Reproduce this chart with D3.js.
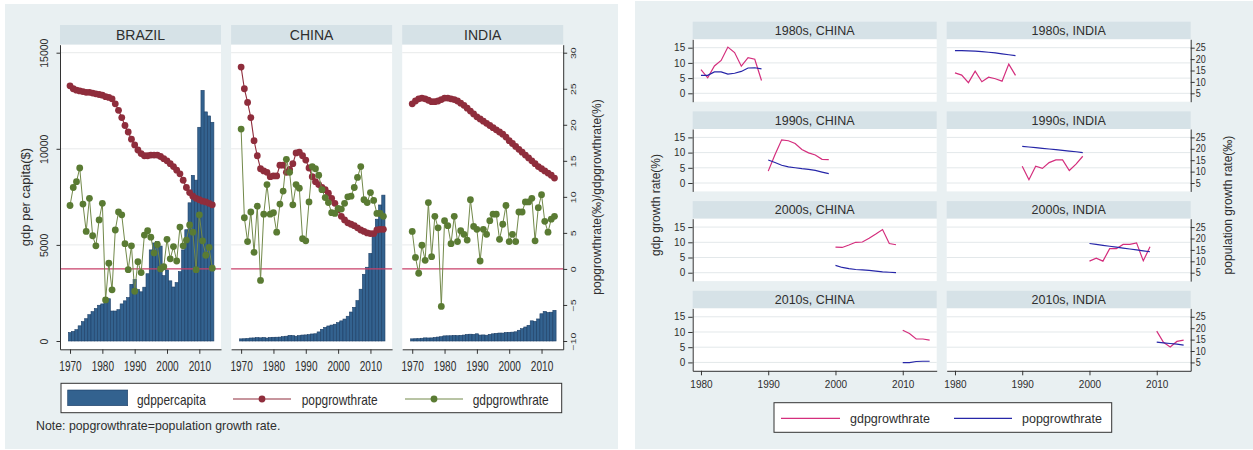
<!DOCTYPE html>
<html><head><meta charset="utf-8">
<script src="https://cdnjs.cloudflare.com/ajax/libs/d3/7.8.5/d3.min.js"></script>
<style>
html,body{margin:0;padding:0;background:#fff;}
svg{display:block;font-family:"Liberation Sans",Arial,sans-serif;}
</style></head><body>
<svg id="chart" width="1253" height="450"></svg>
<script>
// ---- data -------------------------------------------------------------
const years = [1970,1971,1972,1973,1974,1975,1976,1977,1978,1979,
               1980,1981,1982,1983,1984,1985,1986,1987,1988,1989,
               1990,1991,1992,1993,1994,1995,1996,1997,1998,1999,
               2000,2001,2002,2003,2004,2005,2006,2007,2008,2009,
               2010,2011,2012,2013,2014];
const countries = ["BRAZIL", "CHINA", "INDIA"];

// GDP per capita ($)
const brazilGdpPerCapita = [440,500,590,790,1010,1160,1370,1530,1690,1860,
  1930,2100,2200,1560,1560,1630,1930,2090,2260,2950,
  3200,2680,2560,2800,3500,4740,5100,5180,4940,3400,
  3700,3130,2810,3040,3610,4740,5790,7190,8620,8370,
  11120,13040,11920,11710,11380];
const chinaGdpPerCapita = [112,118,131,157,160,178,165,185,155,183,
  194,197,203,225,250,294,281,251,283,310,
  317,333,366,377,473,610,709,782,829,873,
  955,1047,1142,1288,1508,1753,2099,2695,3471,3838,
  4560,5634,6337,7078,7590];
const indiaGdpPerCapita = [112,118,122,143,163,158,161,186,206,224,
  267,271,274,291,277,296,310,340,354,346,
  375,309,317,301,346,374,400,415,413,442,
  452,461,479,559,640,729,817,1050,1023,1147,
  1417,1540,1486,1498,1596];

// population growth rate (per mille)
const brazilPopGrowth = [25.4,25.0,24.8,24.7,24.6,24.5,24.5,24.4,24.3,24.2,
  24.1,23.9,23.8,23.6,22.9,22.0,21.0,19.9,19.0,18.0,
  17.2,16.5,16.0,15.7,15.7,15.8,15.8,15.8,15.6,15.3,
  15.0,14.6,14.2,13.7,13.2,12.3,11.3,10.6,10.1,9.8,
  9.6,9.4,9.3,9.1,8.9];
const chinaPopGrowth = [28.0,25.0,23.1,21.0,17.8,15.7,13.9,13.6,13.4,12.8,
  12.9,12.9,14.4,14.4,13.4,13.8,14.6,16.1,16.2,15.7,
  15.1,14.0,12.8,12.1,11.7,11.3,11.0,10.5,9.8,9.1,
  8.2,7.3,6.8,6.4,6.2,6.0,5.7,5.4,5.2,5.0,
  4.9,4.9,5.4,5.5,5.5];
const indiaPopGrowth = [22.9,23.3,23.6,23.7,23.6,23.4,23.2,23.2,23.3,23.5,
  23.7,23.7,23.6,23.5,23.3,23.0,22.7,22.3,21.9,21.5,
  21.1,20.8,20.5,20.2,19.9,19.6,19.3,19.0,18.7,18.3,
  17.8,17.4,17.0,16.6,16.2,15.8,15.4,15.0,14.6,14.2,
  13.9,13.6,13.3,13.0,12.6];

// GDP growth rate (%)
const brazilGdpGrowth = [8.8,11.3,12.1,14.0,9.0,5.2,9.8,4.6,3.2,6.8,
  9.1,-4.3,0.8,-2.9,5.4,7.9,7.5,3.5,-0.1,3.2,
  -3.1,1.0,-0.5,4.7,5.3,4.4,2.2,3.4,0.0,0.3,
  4.1,1.4,3.1,1.1,5.8,3.2,4.0,6.1,5.1,-0.1,
  7.5,3.9,1.9,3.0,0.1];
const chinaGdpGrowth = [19.4,7.1,3.8,7.9,2.3,8.7,-1.6,7.6,11.7,7.6,
  7.8,5.1,9.0,10.8,15.2,13.4,8.9,11.7,11.2,4.2,
  3.9,9.3,14.2,13.9,13.0,11.0,9.9,9.2,7.8,7.7,
  8.4,8.3,9.1,10.0,10.1,11.3,12.7,14.2,9.6,9.2,
  10.6,9.5,7.7,7.7,7.3];
const indiaGdpGrowth = [5.2,1.6,-0.6,3.3,1.2,9.2,1.7,7.3,5.7,-5.2,
  6.7,6.0,3.5,7.3,3.8,5.3,4.8,4.0,9.6,5.9,
  5.5,1.1,5.5,4.8,6.7,7.6,7.6,4.1,6.2,8.8,
  3.8,4.8,3.8,7.9,7.9,9.3,9.3,9.8,3.9,8.5,
  10.3,6.6,5.1,6.9,7.3];

// ticks and facet labels
const gdpPerCapitaTicks = [0, 5000, 10000, 15000];
const rateTicks = [-10, -5, 0, 5, 10, 15, 20, 25, 30];
const yearTicks = [1970, 1980, 1990, 2000, 2010];
const facetCountries = ["CHINA", "INDIA"];
const decades = ["1980s", "1990s", "2000s", "2010s"];
const decadeStarts = [1980, 1990, 2000, 2010];
const growthTicks = [0, 5, 10, 15];
const popTicks = [5, 10, 15, 20, 25];
const decadeYearTicks = [1980, 1990, 2000, 2010];

const seriesByCountry = {
  BRAZIL: {gdppc: brazilGdpPerCapita, pop: brazilPopGrowth, gdp: brazilGdpGrowth},
  CHINA:  {gdppc: chinaGdpPerCapita,  pop: chinaPopGrowth,  gdp: chinaGdpGrowth},
  INDIA:  {gdppc: indiaGdpPerCapita,  pop: indiaPopGrowth,  gdp: indiaGdpGrowth}
};

// ---- style ------------------------------------------------------------
const BG = "#e9f0f2", STRIP = "#d6e2e7", TEXT = "#2e2e2e", AXIS = "#333";
const BAR_FILL = "#33628f", BAR_EDGE = "#1d3f66";
const POP_RED = "#8f2d3c", GDP_GREEN = "#5a7b33", GDP_GREEN_LINE = "#72894a";
const ZERO_LINE = "#c8416a";
const PINK = "#d42e7d", BLUE = "#2626a8";
const FONT = "Liberation Sans, Arial, sans-serif";
const MARKER_R = 3.4;

const svg = d3.select("#chart");

function label(g, x, y, s, o = {}) {
  return g.append("text")
    .attr("transform", `translate(${x},${y}) rotate(${o.rot || 0}) scale(${o.sx || 1},${o.sy || 1})`)
    .attr("text-anchor", o.anchor || "middle")
    .attr("font-size", o.size || 12)
    .attr("font-family", FONT)
    .attr("fill", o.fill || TEXT)
    .text(s);
}
function styleAxis(ax) {
  ax.attr("font-family", FONT);
  ax.select(".domain").attr("stroke", AXIS).attr("stroke-width", 1);
  ax.selectAll(".tick line").attr("stroke", AXIS).attr("stroke-width", 1);
  ax.selectAll(".tick text").attr("fill", TEXT);
}

// ---- left figure: three country panels ------------------------------
const left = svg.append("g");
left.append("rect").attr("x", 5).attr("y", 4).attr("width", 613).attr("height", 445).attr("fill", BG);

const pTop = 44.7, pBot = 349.3, sTop = 25;
const yGdppc = d3.scaleLinear().domain([0, 15000]).range([341, 52.7]);
const yRate = d3.scaleLinear().domain([-10, 30]).range([341, 52.7]);
const yGdppcAxis = yGdppc.copy().domain([yGdppc.invert(pBot), yGdppc.invert(pTop)]).range([pBot, pTop]);
const yRateAxis = yRate.copy().domain([yRate.invert(pBot), yRate.invert(pTop)]).range([pBot, pTop]);

countries.forEach((c, i) => {
  const x0 = 60 + i * 171.1, w = 161;
  const x = d3.scaleLinear().domain([1966.9, 2016.7]).range([x0, x0 + w]);
  const s = seriesByCountry[c];
  const g = left.append("g");

  g.append("rect").attr("x", x0).attr("y", sTop).attr("width", w).attr("height", pTop - sTop).attr("fill", STRIP);
  label(g, x0 + w / 2, 39.9, c, {size: 14});
  g.append("rect").attr("x", x0).attr("y", pTop).attr("width", w).attr("height", pBot - pTop).attr("fill", "#fff");

  g.selectAll(".grid").data(gdpPerCapitaTicks.filter(v => v > 0)).join("line")
    .attr("x1", x0).attr("x2", x0 + w)
    .attr("y1", d => yGdppc(d)).attr("y2", d => yGdppc(d))
    .attr("stroke", "#e8eaeb").attr("stroke-width", 1);

  const rows = years.map((yr, k) => ({yr, gdppc: s.gdppc[k], pop: s.pop[k], gdp: s.gdp[k]}));

  g.selectAll(".bar").data(rows).join("rect")
    .attr("x", d => x(d.yr - 0.5)).attr("width", d => x(d.yr + 0.5) - x(d.yr - 0.5))
    .attr("y", d => yGdppc(d.gdppc)).attr("height", d => yGdppc(0) - yGdppc(d.gdppc))
    .attr("fill", BAR_FILL).attr("stroke", BAR_EDGE).attr("stroke-width", 0.6);

  g.append("line").attr("x1", x0).attr("x2", x0 + w)
    .attr("y1", yRate(0)).attr("y2", yRate(0))
    .attr("stroke", ZERO_LINE).attr("stroke-width", 1.3);

  const popLine = d3.line().x(d => x(d.yr)).y(d => yRate(d.pop));
  g.append("path").attr("d", popLine(rows)).attr("fill", "none").attr("stroke", POP_RED).attr("stroke-width", 1.1);
  g.selectAll(".popm").data(rows).join("circle")
    .attr("cx", d => x(d.yr)).attr("cy", d => yRate(d.pop)).attr("r", MARKER_R).attr("fill", POP_RED);

  const gdpLine = d3.line().x(d => x(d.yr)).y(d => yRate(d.gdp));
  g.append("path").attr("d", gdpLine(rows)).attr("fill", "none").attr("stroke", GDP_GREEN_LINE).attr("stroke-width", 1);
  g.selectAll(".gdpm").data(rows).join("circle")
    .attr("cx", d => x(d.yr)).attr("cy", d => yRate(d.gdp)).attr("r", MARKER_R).attr("fill", GDP_GREEN);

  const xa = g.append("g").attr("transform", `translate(0,${pBot})`)
    .call(d3.axisBottom(x).tickValues(yearTicks).tickFormat(d3.format("d"))
      .tickSize(4.5).tickPadding(6.8).tickSizeOuter(0));
  styleAxis(xa);
  xa.selectAll(".tick text").attr("font-size", 14).attr("transform", "scale(0.72,1)");

  if (i === 0) {
    const ya = g.append("g").attr("transform", `translate(${x0},0)`)
      .call(d3.axisLeft(yGdppcAxis).tickValues(gdpPerCapitaTicks).tickFormat(d3.format("d"))
        .tickSize(3.5).tickSizeOuter(0));
    styleAxis(ya);
    ya.selectAll(".tick text").attr("x", null).attr("dy", null)
      .attr("text-anchor", "middle").attr("font-size", 10.5)
      .attr("transform", "translate(-12,0) rotate(-90)");
  }
  if (i === countries.length - 1) {
    const ya = g.append("g").attr("transform", `translate(${x0 + w},0)`)
      .call(d3.axisRight(yRateAxis).tickValues(rateTicks).tickFormat(d3.format("d"))
        .tickSize(4).tickSizeOuter(0));
    styleAxis(ya);
    ya.selectAll(".tick text").attr("x", null).attr("dy", null)
      .attr("text-anchor", "middle").attr("font-size", 10.5)
      .attr("transform", "translate(12.6,0) rotate(-90) scale(1,0.75)");
  }
});

label(left, 30, 197, "gdp per capita($)", {size: 13, rot: -90});
label(left, 600.5, 197, "popgrowthrate(\u2030)/gdpgrowthrate(%)", {size: 12, rot: -90});

// legend
const lg = left.append("g");
lg.append("rect").attr("x", 61).attr("y", 383.3).attr("width", 500.7).attr("height", 29.4)
  .attr("fill", "#fff").attr("stroke", "#333").attr("stroke-width", 1);
lg.append("rect").attr("x", 67.7).attr("y", 390).attr("width", 60).attr("height", 15.7)
  .attr("fill", BAR_FILL).attr("stroke", BAR_EDGE).attr("stroke-width", 0.6);
label(lg, 137, 404.5, "gdppercapita", {size: 14, anchor: "start", sx: 0.85});
lg.append("line").attr("x1", 233).attr("x2", 291).attr("y1", 399).attr("y2", 399).attr("stroke", POP_RED).attr("stroke-width", 1.1);
lg.append("circle").attr("cx", 262).attr("cy", 399).attr("r", MARKER_R).attr("fill", POP_RED);
label(lg, 301.7, 404.5, "popgrowthrate", {size: 14, anchor: "start", sx: 0.85});
lg.append("line").attr("x1", 405).attr("x2", 463).attr("y1", 399).attr("y2", 399).attr("stroke", GDP_GREEN_LINE).attr("stroke-width", 1);
lg.append("circle").attr("cx", 434).attr("cy", 399).attr("r", MARKER_R).attr("fill", GDP_GREEN);
label(lg, 472.7, 404.5, "gdpgrowthrate", {size: 14, anchor: "start", sx: 0.85});

label(left, 36, 430, "Note: popgrowthrate=population growth rate.", {size: 13, anchor: "start", sx: 0.95});

// ---- right figure: decade x country facets -------------------------
const right = svg.append("g");
right.append("rect").attr("x", 635).attr("y", 1).attr("width", 618).attr("height", 448).attr("fill", BG);

facetCountries.forEach((c, ci) => {
  const x0 = 692.7 + ci * 254, w = 244;
  const x = d3.scaleLinear().domain([1978.77, 2015.05]).range([x0, x0 + w]);
  const s = seriesByCountry[c];

  decadeStarts.forEach((d0, ri) => {
    const stTop = 21.7 + ri * 89.7, top = stTop + 17.6, bot = top + 62.4;
    const yG = d3.scaleLinear().domain([-2.76, 17.76]).range([bot, top]);
    const yP = d3.scaleLinear().domain([1.32, 28.68]).range([bot, top]);
    const g = right.append("g");

    g.append("rect").attr("x", x0).attr("y", stTop).attr("width", w).attr("height", top - stTop).attr("fill", STRIP);
    label(g, x0 + w / 2, stTop + 13.2, `${decades[ri]}, ${c}`, {size: 12.5});
    g.append("rect").attr("x", x0).attr("y", top).attr("width", w).attr("height", bot - top).attr("fill", "#fff");

    g.selectAll(".grid").data(growthTicks).join("line")
      .attr("x1", x0).attr("x2", x0 + w)
      .attr("y1", v => yG(v)).attr("y2", v => yG(v))
      .attr("stroke", "#e3e8ea").attr("stroke-width", 1);

    const rows = years.map((yr, k) => ({yr, pop: s.pop[k], gdp: s.gdp[k]}))
      .filter(r => r.yr >= d0 && r.yr < d0 + 10);

    g.append("path").attr("d", d3.line().x(r => x(r.yr)).y(r => yG(r.gdp))(rows))
      .attr("fill", "none").attr("stroke", PINK).attr("stroke-width", 1.2);
    g.append("path").attr("d", d3.line().x(r => x(r.yr)).y(r => yP(r.pop))(rows))
      .attr("fill", "none").attr("stroke", BLUE).attr("stroke-width", 1.2);

    if (ci === 0) {
      const ya = g.append("g").attr("transform", `translate(${x0},0)`)
        .call(d3.axisLeft(yG).tickValues(growthTicks).tickSize(4.5).tickPadding(3).tickSizeOuter(0));
      styleAxis(ya);
      ya.selectAll(".tick text").attr("font-size", 10);
    } else {
      const ya = g.append("g").attr("transform", `translate(${x0 + w},0)`)
        .call(d3.axisRight(yP).tickValues(popTicks).tickSize(4).tickPadding(1.5).tickSizeOuter(0));
      styleAxis(ya);
      ya.selectAll(".tick text").attr("font-size", 10).attr("transform", "scale(0.9,1)");
    }
    if (ri === decadeStarts.length - 1) {
      const xa = g.append("g").attr("transform", `translate(0,${bot})`)
        .call(d3.axisBottom(x).tickValues(decadeYearTicks).tickFormat(d3.format("d"))
          .tickSize(4.5).tickPadding(5.7).tickSizeOuter(0));
      styleAxis(xa);
      xa.selectAll(".tick text").attr("font-size", 10);
    }
  });
});

label(right, 659.5, 205, "gdp growth rate(%)", {size: 12, rot: -90});
label(right, 1232, 205, "population growth rate(\u2030)", {size: 12, rot: -90});

const rl = right.append("g");
rl.append("rect").attr("x", 774).attr("y", 402.7).attr("width", 337.7).attr("height", 29.6)
  .attr("fill", "#fff").attr("stroke", "#333").attr("stroke-width", 1);
rl.append("line").attr("x1", 781).attr("x2", 840).attr("y1", 418.3).attr("y2", 418.3).attr("stroke", PINK).attr("stroke-width", 1.2);
label(rl, 850, 423, "gdpgrowthrate", {size: 12.5, anchor: "start"});
rl.append("line").attr("x1", 954).attr("x2", 1012).attr("y1", 418.3).attr("y2", 418.3).attr("stroke", BLUE).attr("stroke-width", 1.2);
label(rl, 1022, 423, "popgrowthrate", {size: 12.5, anchor: "start"});
</script>
</body></html>
